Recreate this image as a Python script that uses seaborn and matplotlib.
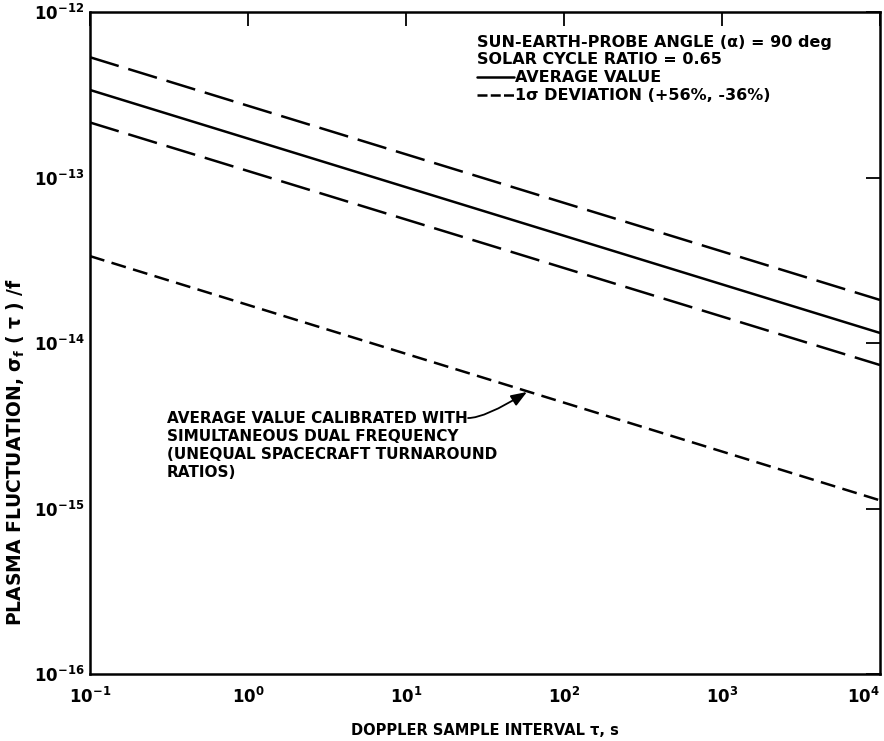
import numpy as np
import pandas as pd
import matplotlib
matplotlib.use("Agg")
import matplotlib.pyplot as plt
import seaborn as sns
from matplotlib.lines import Line2D
from matplotlib.ticker import FixedLocator, FixedFormatter, NullLocator

# ---- data ----
tau = [0.1, 1e4]
average = [3.38e-13, 1.15e-14]
upper_1sigma = [5.33e-13, 1.82e-14]
lower_1sigma = [2.15e-13, 7.36e-15]
calibrated = [3.35e-14, 1.12e-15]

x_ticks = [1e-1, 1e0, 1e1, 1e2, 1e3, 1e4]
x_tick_labels = ["10$^{-1}$", "10$^{0}$", "10$^{1}$", "10$^{2}$", "10$^{3}$", "10$^{4}$"]
y_ticks = [1e-16, 1e-15, 1e-14, 1e-13, 1e-12]
y_tick_labels = ["10$^{-16}$", "10$^{-15}$", "10$^{-14}$", "10$^{-13}$", "10$^{-12}$"]

legend_title = "SUN-EARTH-PROBE ANGLE (α) = 90 deg\nSOLAR CYCLE RATIO = 0.65"
label_avg = "AVERAGE VALUE"
label_dev = "1σ DEVIATION (+56%, -36%)"
note_text = ("AVERAGE VALUE CALIBRATED WITH\nSIMULTANEOUS DUAL FREQUENCY\n"
             "(UNEQUAL SPACECRAFT TURNAROUND\nRATIOS)")
note_pos = (0.307, 10 ** -14.411)
arrow_tip = (58.3, 5.06e-15)
arrow_tail = (24.7, 3.52e-15)

# ---- style ----
sns.set_theme(style="white")
plt.rcParams["font.family"] = ["DejaVu Sans"]
plt.rcParams["font.weight"] = "bold"
plt.rcParams["mathtext.default"] = "regular"
for k in ["text.color", "axes.labelcolor", "xtick.color", "ytick.color",
          "axes.edgecolor"]:
    plt.rcParams[k] = "black"

W, H = 884, 741
fig = plt.figure(figsize=(W / 100, H / 100), dpi=100)
fig.patch.set_facecolor("white")
ax = fig.add_axes([90 / W, (H - 674) / H, 790 / W, 662 / H])
ax.set_xscale("log")
ax.set_yscale("log")

lw = 1.8
sns.lineplot(x=tau, y=average, ax=ax, color="black", linewidth=lw)
sns.lineplot(x=tau, y=upper_1sigma, ax=ax, color="black", linewidth=lw,
             linestyle=(0, (12, 4)))
sns.lineplot(x=tau, y=lower_1sigma, ax=ax, color="black", linewidth=lw,
             linestyle=(0, (12, 4)))
sns.lineplot(x=tau, y=calibrated, ax=ax, color="black", linewidth=lw,
             linestyle=(0, (6, 3)))

ax.set_xlim(1e-1, 1e4)
ax.set_ylim(1e-16, 1e-12)

ax.xaxis.set_major_locator(FixedLocator(x_ticks))
ax.xaxis.set_major_formatter(FixedFormatter(x_tick_labels))
ax.yaxis.set_major_locator(FixedLocator(y_ticks))
ax.yaxis.set_major_formatter(FixedFormatter(y_tick_labels))
ax.xaxis.set_minor_locator(NullLocator())
ax.yaxis.set_minor_locator(NullLocator())
ax.tick_params(which="major", direction="in", length=10, width=1.3,
               top=True, right=True, labelsize=12, colors="black")
ax.tick_params(axis="x", pad=9)
ax.tick_params(axis="y", pad=4)
for lab in ax.get_xticklabels() + ax.get_yticklabels():
    lab.set_fontweight("bold")
xl = ax.get_xticklabels()
xl[-1].set_horizontalalignment("right")
xl[-1].set_x(0)

for s in ax.spines.values():
    s.set_linewidth(1.8)
    s.set_color("black")

ax.set_xlabel("DOPPLER SAMPLE INTERVAL τ, s", fontsize=10.5, fontweight="bold",
              labelpad=12)
ax.set_ylabel("PLASMA FLUCTUATION, σ$_f$ ( τ ) /f", fontsize=13.5,
              fontweight="bold")
ax.yaxis.set_label_coords(-0.08, 0.335)

# legend
handles = [Line2D([], [], color="black", linewidth=lw),
           Line2D([], [], color="black", linewidth=lw, linestyle=(0, (4, 1.3)))]
leg = ax.legend(handles, [label_avg, label_dev], title=legend_title,
                loc="upper left", bbox_to_anchor=((477 - 90) / 790, (674 - 35) / 662),
                frameon=False, alignment="left", handlelength=2.3,
                handletextpad=0.1, labelspacing=0.2, borderpad=0,
                borderaxespad=0, prop={"size": 11.5, "weight": "bold"},
                title_fontproperties={"size": 11.5, "weight": "bold"})
leg._legend_box.sep = 2

# annotation
ax.text(note_pos[0], note_pos[1], note_text, fontsize=11, fontweight="bold",
        ha="left", va="top", linespacing=1.25,
        transform=ax.transData)
ax.annotate("", xy=arrow_tip, xytext=arrow_tail,
            arrowprops=dict(arrowstyle="-|>,head_length=0.8,head_width=0.3",
                            color="black", lw=1.3, mutation_scale=12,
                            connectionstyle="angle3,angleA=0,angleB=32",
                            shrinkA=0, shrinkB=0))

fig.savefig("out.png", dpi=100, facecolor="white")
